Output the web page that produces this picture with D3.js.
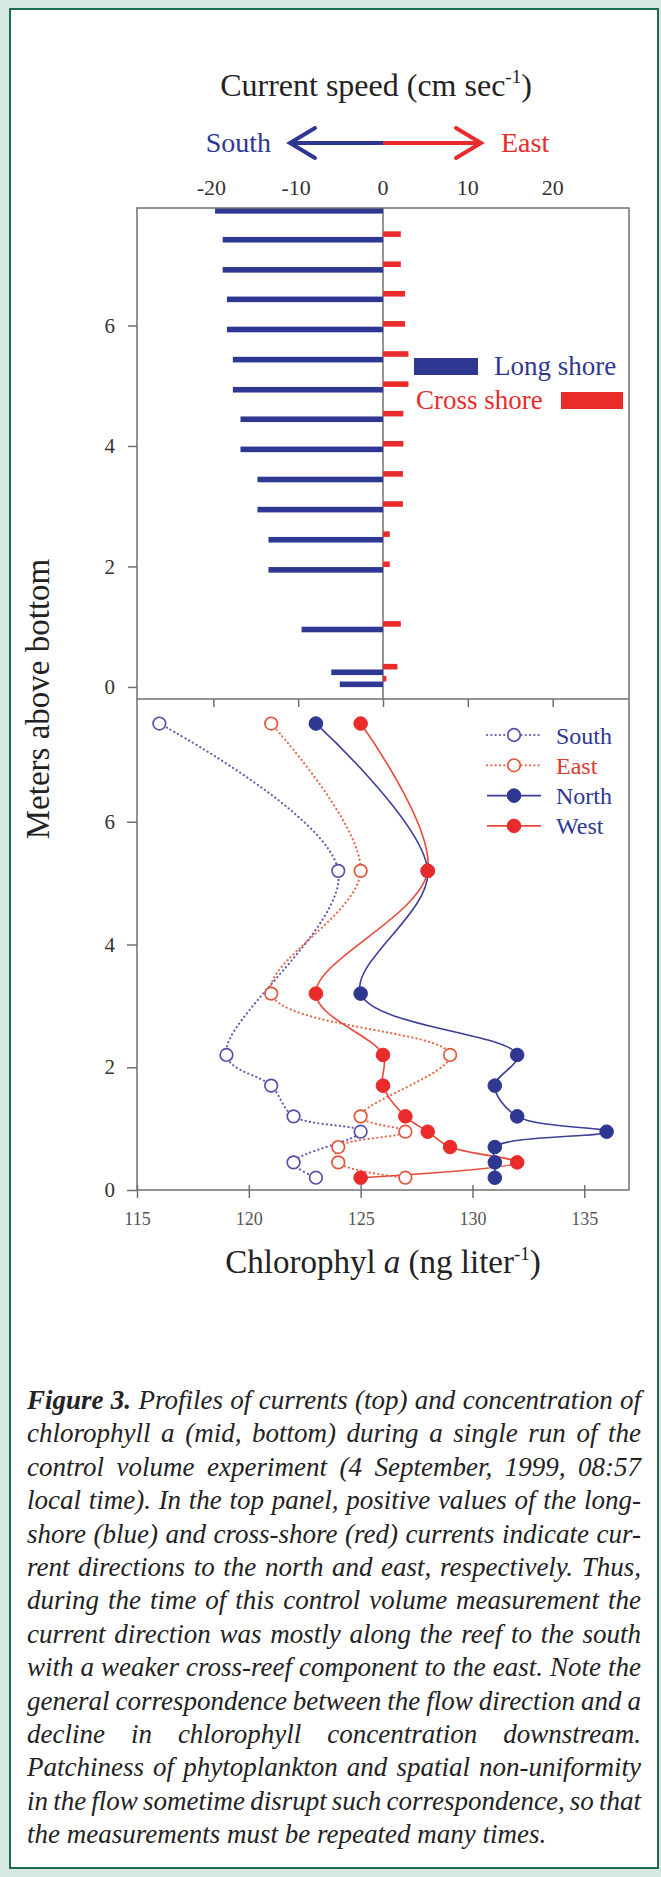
<!DOCTYPE html>
<html lang="en">
<head>
  <meta charset="UTF-8">
  <title>Figure 3 - currents and chlorophyll profiles</title>
  <script src="https://d3js.org/d3.v7.min.js"></script>
  <style>
    html, body {
      margin: 0;
      padding: 0;
      background: #d6e9e1;
    }
    svg {
      display: block;
    }
    text {
      font-family: "Liberation Serif", "Times New Roman", serif;
    }
    .caption {
      font-style: italic;
      font-size: 27px;
      fill: #222;
    }
  </style>
</head>
<body>
  <svg id="chart" width="661" height="1877"></svg>
  <script>
    // top panel: current profile (one row per bin)
    const barDepth = [7.95, 7.47, 6.97, 6.48, 5.98, 5.48, 4.98, 4.49, 3.99, 3.49, 2.99, 2.49, 1.99, 1.0, 0.29, 0.09];
    const longShore = [-19.8, -18.9, -18.9, -18.4, -18.4, -17.7, -17.7, -16.8, -16.8, -14.8, -14.8, -13.5, -13.5, -9.6, -6.1, -5.1];
    const crossShore = [null, 2.1, 2.1, 2.6, 2.6, 3.0, 3.0, 2.4, 2.4, 2.35, 2.35, 0.8, 0.8, 2.1, 1.7, 0.4];
    const speedTicks = [-20, -10, 0, 10, 20];

    // bottom panel: chlorophyll profiles
    const chlDepth = [7.6, 5.2, 3.2, 2.2, 1.7, 1.2, 0.95, 0.7, 0.45, 0.2];
    const south = [116, 124, null, 119, 121, 122, 125, null, 122, 123];
    const east  = [121, 125, 121, 129, null, 125, 127, 124, 124, 127];
    const north = [123, 128, 125, 132, 131, 132, 136, 131, 131, 131];
    const west  = [125, 128, 123, 126, 126, 127, 128, 129, 132, 125];
    const chlTicks = [115, 120, 125, 130, 135];
    const depthTicks = [0, 2, 4, 6];

    const captionLines = [
      "Figure 3. Profiles of currents (top) and concentration of",
      "chlorophyll a (mid, bottom) during a single run of the",
      "control volume experiment (4 September, 1999, 08:57",
      "local time). In the top panel, positive values of the long-",
      "shore (blue) and cross-shore (red) currents indicate cur-",
      "rent directions to the north and east, respectively. Thus,",
      "during the time of this control volume measurement the",
      "current direction was mostly along the reef to the south",
      "with a weaker cross-reef component to the east. Note the",
      "general correspondence between the flow direction and a",
      "decline in chlorophyll concentration downstream.",
      "Patchiness of phytoplankton and spatial non-uniformity",
      "in the flow sometime disrupt such correspondence, so that",
      "the measurements must be repeated many times."
    ];

    const blue = "#2e3892";
    const red = "#ea2b2b";
    const axisGray = "#707070";
    const serif = "'Liberation Serif', 'Times New Roman', serif";

    const svg = d3.select("#chart");

    // frame
    svg.append("rect").attr("width", 661).attr("height", 1877).attr("fill", "#d6e9e1");
    svg.append("rect")
      .attr("x", 10).attr("y", 9).attr("width", 648).attr("height", 1859)
      .attr("fill", "#fff").attr("stroke", "#1c6c52").attr("stroke-width", 2);

    const pLeft = 137, pRight = 629, pTop = 208, pMid = 699, pBottom = 1190;

    const xTop = d3.scaleLinear().domain([-29, 29]).range([pLeft, pRight]);
    const yTop = d3.scaleLinear().domain([-0.2, 7.95]).range([pMid, pTop]);
    const xBot = d3.scaleLinear().domain([115, 137]).range([pLeft, pRight]);
    const yBot = d3.scaleLinear().domain([0, 8]).range([pBottom, pMid]);

    // ---------- top panel ----------
    svg.append("text")
      .attr("x", 376).attr("y", 96)
      .attr("text-anchor", "middle")
      .attr("font-size", 32).attr("fill", "#222")
      .call(t => {
        t.append("tspan").text("Current speed (cm sec");
        t.append("tspan").attr("font-size", 19).attr("dy", -13).text("-1");
        t.append("tspan").attr("dy", 13).text(")");
      });

    // direction arrow
    const arrowY = 143;
    svg.append("line").attr("x1", 290).attr("x2", xTop(0)).attr("y1", arrowY).attr("y2", arrowY)
      .attr("stroke", blue).attr("stroke-width", 4);
    svg.append("polyline").attr("points", `315,128 290,${arrowY} 315,158`)
      .attr("fill", "none").attr("stroke", blue).attr("stroke-width", 4).attr("stroke-linecap", "round");
    svg.append("line").attr("x1", xTop(0)).attr("x2", 481).attr("y1", arrowY).attr("y2", arrowY)
      .attr("stroke", red).attr("stroke-width", 4);
    svg.append("polyline").attr("points", `456,128 481,${arrowY} 456,158`)
      .attr("fill", "none").attr("stroke", red).attr("stroke-width", 4).attr("stroke-linecap", "round");
    svg.append("text").attr("x", 271).attr("y", 152).attr("text-anchor", "end")
      .attr("font-size", 28).attr("fill", blue).text("South");
    svg.append("text").attr("x", 501).attr("y", 152)
      .attr("font-size", 28).attr("fill", red).text("East");

    // speed tick labels above the panel
    svg.append("g").selectAll("text").data(speedTicks).join("text")
      .attr("x", d => xTop(d) + (d < 0 ? -2 : 0)).attr("y", 195)
      .attr("text-anchor", "middle").attr("font-size", 22).attr("fill", "#333")
      .style("font-family", serif)
      .text(d => d);

    // zero line
    svg.append("line").attr("x1", xTop(0)).attr("x2", xTop(0)).attr("y1", pTop).attr("y2", pMid)
      .attr("stroke", axisGray).attr("stroke-width", 1.5);

    const barH = 5.6;
    svg.append("g").selectAll("rect").data(barDepth).join("rect")
      .attr("x", (d, i) => xTop(longShore[i]))
      .attr("width", (d, i) => xTop(0) - xTop(longShore[i]))
      .attr("y", d => yTop(d))
      .attr("height", barH)
      .attr("fill", blue);

    const crossRows = barDepth.map((d, i) => ({ depth: d, v: crossShore[i] })).filter(d => d.v != null);
    svg.append("g").selectAll("rect").data(crossRows).join("rect")
      .attr("x", xTop(0))
      .attr("width", d => xTop(d.v) - xTop(0))
      .attr("y", d => yTop(d.depth) - barH)
      .attr("height", barH)
      .attr("fill", red);

    // legend top
    svg.append("rect").attr("x", 414).attr("y", 358).attr("width", 64).attr("height", 17).attr("fill", blue);
    svg.append("text").attr("x", 494).attr("y", 375).attr("font-size", 27).attr("fill", blue).text("Long shore");
    svg.append("rect").attr("x", 561).attr("y", 392).attr("width", 62).attr("height", 17).attr("fill", red);
    svg.append("text").attr("x", 416).attr("y", 409).attr("font-size", 27).attr("fill", red).text("Cross shore");

    // top panel axes
    svg.append("g").attr("transform", `translate(${pLeft},0)`)
      .call(d3.axisLeft(yTop).tickValues(depthTicks).tickSize(9).tickPadding(13).tickFormat(d3.format("d")))
      .call(g => g.select(".domain").remove())
      .call(g => g.selectAll("line").attr("stroke", axisGray).attr("stroke-width", 1.5))
      .call(g => g.selectAll("text").attr("font-size", 21).attr("fill", "#333").style("font-family", serif));

    svg.append("g").attr("transform", `translate(0,${pMid})`)
      .call(d3.axisBottom(xTop).tickValues(speedTicks).tickSize(8).tickFormat(""))
      .call(g => g.select(".domain").remove())
      .call(g => g.selectAll("line").attr("stroke", axisGray).attr("stroke-width", 1.5));

    // ---------- bottom panel ----------
    svg.append("g").attr("transform", `translate(${pLeft},0)`)
      .call(d3.axisLeft(yBot).tickValues(depthTicks).tickSize(10).tickPadding(12).tickFormat(d3.format("d")))
      .call(g => g.select(".domain").remove())
      .call(g => g.selectAll("line").attr("stroke", axisGray).attr("stroke-width", 1.5))
      .call(g => g.selectAll("text").attr("font-size", 21).attr("fill", "#333").style("font-family", serif));

    svg.append("g").attr("transform", `translate(0,${pBottom})`)
      .call(d3.axisBottom(xBot).tickValues(chlTicks).tickSize(8).tickPadding(14).tickFormat(d3.format("d")))
      .call(g => g.select(".domain").remove())
      .call(g => g.selectAll("line").attr("y1", -5).attr("stroke", axisGray).attr("stroke-width", 1.5))
      .call(g => g.selectAll("text").attr("font-size", 18).attr("fill", "#555").style("font-family", serif));

    // panel boxes
    svg.append("rect").attr("x", pLeft).attr("y", pTop).attr("width", pRight - pLeft).attr("height", pBottom - pTop)
      .attr("fill", "none").attr("stroke", axisGray).attr("stroke-width", 1.5);
    svg.append("line").attr("x1", pLeft).attr("x2", pRight).attr("y1", pMid).attr("y2", pMid)
      .attr("stroke", axisGray).attr("stroke-width", 1.5);

    const series = [
      { name: "South", values: south, color: "#5a4fa8", lineColor: "#6a5cab", filled: false, dotted: true, textColor: blue },
      { name: "East", values: east, color: "#e2553a", lineColor: "#e86a4e", filled: false, dotted: true, textColor: "#dd3b2e" },
      { name: "North", values: north, color: blue, lineColor: "#3b3f98", filled: true, dotted: false, textColor: blue },
      { name: "West", values: west, color: red, lineColor: "#e8493a", filled: true, dotted: false, textColor: blue }
    ];

    const line = d3.line()
      .x(d => xBot(d.v))
      .y(d => yBot(d.depth))
      .curve(d3.curveCatmullRom);

    series.forEach(s => {
      const pts = s.values.map((v, i) => ({ v, depth: chlDepth[i] })).filter(d => d.v != null);
      svg.append("path").datum(pts)
        .attr("d", line)
        .attr("fill", "none")
        .attr("stroke", s.lineColor)
        .attr("stroke-width", s.dotted ? 2.2 : 1.6)
        .attr("stroke-dasharray", s.dotted ? "0.1,4.2" : null)
        .attr("stroke-linecap", s.dotted ? "round" : "butt");
    });

    series.forEach(s => {
      const pts = s.values.map((v, i) => ({ v, depth: chlDepth[i] })).filter(d => d.v != null);
      svg.append("g").selectAll("circle").data(pts).join("circle")
        .attr("cx", d => xBot(d.v))
        .attr("cy", d => yBot(d.depth))
        .attr("r", s.filled ? 6.8 : 6.3)
        .attr("fill", s.filled ? s.color : "#fff")
        .attr("stroke", s.color)
        .attr("stroke-width", s.filled ? 1 : 1.7);
    });

    // legend bottom
    series.forEach((s, i) => {
      const ly = 735 + i * 30.3;
      svg.append("line").attr("x1", 487).attr("x2", 541).attr("y1", ly).attr("y2", ly)
        .attr("stroke", s.lineColor)
        .attr("stroke-width", s.dotted ? 2.2 : 1.6)
        .attr("stroke-dasharray", s.dotted ? "0.1,4.2" : null)
        .attr("stroke-linecap", s.dotted ? "round" : "butt");
      svg.append("circle").attr("cx", 514).attr("cy", ly).attr("r", s.filled ? 6.8 : 6.3)
        .attr("fill", s.filled ? s.color : "#fff").attr("stroke", s.color).attr("stroke-width", s.filled ? 1 : 1.7);
      svg.append("text").attr("x", 556).attr("y", ly + 8.5).attr("font-size", 24)
        .attr("fill", s.textColor).text(s.name);
    });

    // axis titles
    svg.append("text")
      .attr("x", 383).attr("y", 1273).attr("text-anchor", "middle")
      .attr("font-size", 33).attr("fill", "#222")
      .call(t => {
        t.append("tspan").text("Chlorophyl ");
        t.append("tspan").attr("font-style", "italic").text("a");
        t.append("tspan").text(" (ng liter");
        t.append("tspan").attr("font-size", 19).attr("dy", -13).text("-1");
        t.append("tspan").attr("dy", 13).text(")");
      });

    svg.append("text")
      .attr("transform", "translate(49,699) rotate(-90)")
      .attr("text-anchor", "middle")
      .attr("font-size", 33).attr("fill", "#222")
      .text("Meters above bottom");

    // ---------- caption, justified word by word ----------
    const capLeft = 27, capRight = 641, capTop = 1409, capStep = 33.4;
    captionLines.forEach((ln, li) => {
      const words = ln.split(" ");
      const y = capTop + li * capStep;
      const nodes = words.map((w, wi) => {
        const bold = li === 0 && wi < 2;
        return svg.append("text").attr("class", "caption").attr("y", y)
          .attr("font-weight", bold ? "bold" : null).text(w);
      });
      const widths = nodes.map(n => n.node().getComputedTextLength());
      const total = d3.sum(widths);
      const last = li === captionLines.length - 1;
      const gap = last ? 27 * 0.25 : (capRight - capLeft - total) / (words.length - 1);
      let x = capLeft;
      nodes.forEach((n, i) => {
        n.attr("x", x);
        x += widths[i] + gap;
      });
    });
  </script>
</body>
</html>
